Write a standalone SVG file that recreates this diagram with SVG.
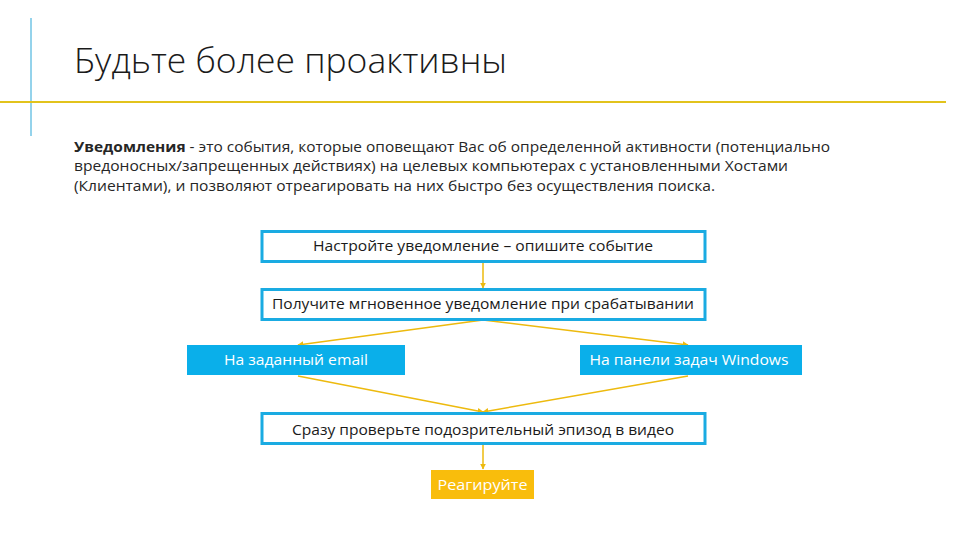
<svg xmlns="http://www.w3.org/2000/svg" width="960" height="540" viewBox="0 0 960 540">
<defs>
<style>
.t{font-family:"Open Sans","Liberation Sans",sans-serif;}
.body{font-family:"Open Sans","Liberation Sans",sans-serif;font-size:14px;fill:#262626;}
.ob{fill:#ffffff;stroke:#1AABE2;stroke-width:3;}
.fb{fill:#0AAFEA;}
.bt{font-family:"Open Sans","Liberation Sans",sans-serif;font-size:14px;fill:#1a1a1a;text-anchor:middle;}
.wt{font-family:"Open Sans","Liberation Sans",sans-serif;font-size:14px;fill:#ffffff;text-anchor:middle;}
.c{stroke:#EDBA0E;stroke-width:1.5;fill:none;}
</style>
<marker id="ah" viewBox="0 0 10 10" refX="9" refY="5" markerWidth="6" markerHeight="6" orient="auto" markerUnits="userSpaceOnUse">
<path d="M0,0 L10,5 L0,10 z" fill="#EDBA0E"/>
</marker>
</defs>
<rect width="960" height="540" fill="#ffffff"/>
<line x1="31" y1="18" x2="31" y2="136" stroke="#2AA7D8" stroke-width="1"/>
<line x1="0" y1="102" x2="946" y2="102" stroke="#E2C31C" stroke-width="2"/>
<text class="t" x="74" y="73" font-size="35" font-weight="300" fill="#1a1a1a" textLength="433" lengthAdjust="spacingAndGlyphs">Будьте более проактивны</text>
<text class="body" x="74" y="152" textLength="756" lengthAdjust="spacingAndGlyphs"><tspan font-weight="bold">Уведомления</tspan> - это события, которые оповещают Вас об определенной активности (потенциально</text>
<text class="body" x="74" y="171" textLength="714" lengthAdjust="spacingAndGlyphs">вредоносных/запрещенных действиях) на целевых компьютерах с установленными Хостами</text>
<text class="body" x="74" y="191" textLength="641" lengthAdjust="spacingAndGlyphs">(Клиентами), и позволяют отреагировать на них быстро без осуществления поиска.</text>
<g id="connectors">
<line class="c" x1="483" y1="262" x2="483" y2="288" marker-end="url(#ah)"/>
<line class="c" x1="483" y1="320" x2="298" y2="345" marker-end="url(#ah)"/>
<line class="c" x1="483" y1="320" x2="688" y2="345" marker-end="url(#ah)"/>
<line class="c" x1="298" y1="376" x2="483" y2="412" marker-end="url(#ah)"/>
<line class="c" x1="688" y1="376" x2="483" y2="412" marker-end="url(#ah)"/>
<line class="c" x1="483" y1="444" x2="483" y2="469" marker-end="url(#ah)"/>
</g>
<g id="n1">
<rect class="ob" x="262" y="231.5" width="443" height="30"/>
<text class="bt" x="483" y="251" textLength="340" lengthAdjust="spacingAndGlyphs">Настройте уведомление – опишите событие</text>
</g>
<g id="n2">
<rect class="ob" x="262" y="289.5" width="443" height="30"/>
<text class="bt" x="483" y="309" textLength="422" lengthAdjust="spacingAndGlyphs">Получите мгновенное уведомление при срабатывании</text>
</g>
<g id="n3">
<rect class="fb" x="187" y="345" width="218" height="30"/>
<text class="wt" x="296" y="365" textLength="144" lengthAdjust="spacingAndGlyphs">На заданный email</text>
</g>
<g id="n4">
<rect class="fb" x="580" y="345" width="222" height="30"/>
<text class="wt" x="689" y="365" textLength="199" lengthAdjust="spacingAndGlyphs">На панели задач Windows</text>
</g>
<g id="n5">
<rect class="ob" x="262" y="413.5" width="443" height="30"/>
<text class="bt" x="483" y="435" textLength="382" lengthAdjust="spacingAndGlyphs">Сразу проверьте подозрительный эпизод в видео</text>
</g>
<g id="n6">
<rect x="431" y="470" width="103" height="29" fill="#F9BD0C"/>
<text class="wt" x="482.5" y="490" textLength="90" lengthAdjust="spacingAndGlyphs">Реагируйте</text>
</g>
</svg>
